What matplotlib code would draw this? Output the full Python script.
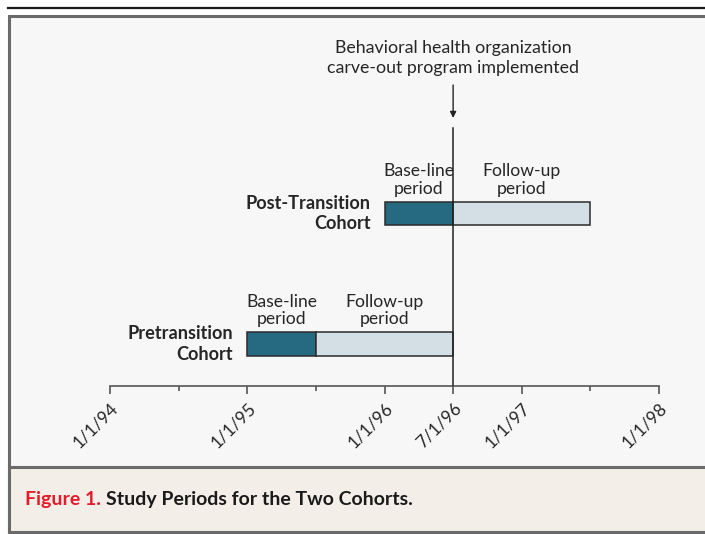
import matplotlib
matplotlib.use("Agg")
import matplotlib.pyplot as plt
from matplotlib.patches import Rectangle
from matplotlib.lines import Line2D

# data (dates as decimal years)
cohorts = ["Pretransition\nCohort", "Post-Transition\nCohort"]
baseline_start = [1995.0, 1996.0]
baseline_end = [1995.5, 1996.5]
followup_end = [1996.5, 1997.5]
implementation = 1996.5
tick_dates = [1994.0, 1995.0, 1996.0, 1996.5, 1997.0, 1998.0]
tick_labels = ["1/1/94", "1/1/95", "1/1/96", "7/1/96", "1/1/97", "1/1/98"]
minor_dates = [1994.5, 1995.5, 1997.5]

W, H = 705, 534
DARK = "#256a80"
LIGHT = "#d3dfe5"
EDGE = "#2b2b2b"
TEXT = "#262626"
FONT = "Lato"

plt.rcParams["font.family"] = [FONT, "DejaVu Sans"]


def fx(x):
    return x / W


def fy(y):
    return 1 - y / H


fig = plt.figure(figsize=(W / 100, H / 100), dpi=100, facecolor="white")

# frame: top rule, panel, caption band (behind the axes)
fig.add_artist(Line2D([fx(8), 1], [fy(8), fy(8)], color="#1a1a1a", lw=1.6, zorder=-2))
fig.add_artist(Rectangle((fx(9), fy(532)), 1, fy(16) - fy(532),
                         facecolor="#f7f7f7", edgecolor="#6a6a6a", lw=2.2, zorder=-2))
fig.add_artist(Rectangle((fx(9), fy(532)), 1, fy(467) - fy(532),
                         facecolor="#f3eee8", edgecolor="#6a6a6a", lw=2.2, zorder=-1))

# timeline axes
ax_top, ax_bot = 120, 386
ax = fig.add_axes([fx(110), fy(ax_bot), fx(659) - fx(110), (ax_bot - ax_top) / H])
ax.set_facecolor("none")
ax.set_xlim(1994, 1998)
row_px = 130.5
ax.set_ylim(-(ax_bot - 344) / row_px, 1 + (213.5 - ax_top) / row_px)
for s in ["top", "left", "right"]:
    ax.spines[s].set_visible(False)
ax.spines["bottom"].set_color("#555555")
ax.spines["bottom"].set_linewidth(1.2)
ax.set_yticks([])
ax.set_xticks(tick_dates)
ax.set_xticklabels(tick_labels, rotation=45, ha="right", va="top",
                   rotation_mode="anchor", fontsize=12.5, color=TEXT)
ax.set_xticks(minor_dates, minor=True)
ax.tick_params(axis="x", which="major", length=6, width=1.2, color="#555555", pad=4)
ax.tick_params(axis="x", which="minor", length=3.8, width=1.2, color="#555555")

bar_h = 0.18
for i, name in enumerate(cohorts):
    b0, b1, f1 = baseline_start[i], baseline_end[i], followup_end[i]
    ax.barh(i, b1 - b0, left=b0, height=bar_h, color=DARK, edgecolor=EDGE, lw=1.1, zorder=3)
    ax.barh(i, f1 - b1, left=b1, height=bar_h, color=LIGHT, edgecolor=EDGE, lw=1.1, zorder=3)
    top = i + bar_h / 2
    ax.annotate("Base-line\nperiod", xy=((b0 + b1) / 2, top), xytext=(0, 3.5),
                textcoords="offset points", ha="center", va="bottom",
                fontsize=12.6, color=TEXT, linespacing=1.12)
    ax.annotate("Follow-up\nperiod", xy=((b1 + f1) / 2, top), xytext=(0, 3.5),
                textcoords="offset points", ha="center", va="bottom",
                fontsize=12.6, color=TEXT, linespacing=1.12)
    ax.annotate(name, xy=(b0, i), xytext=(-10, 0), textcoords="offset points",
                ha="right", va="center", multialignment="right",
                fontsize=13.1, fontweight="bold", color=TEXT, linespacing=1.25)

# implementation line and arrow
ax.axvline(implementation, ymin=0, ymax=(ax_bot - 128) / (ax_bot - ax_top),
           color="#222222", lw=1.1, zorder=4)
ax.annotate("", xy=(implementation, (ax_bot - 118) / (ax_bot - ax_top)),
            xytext=(implementation, (ax_bot - 85) / (ax_bot - ax_top)),
            xycoords=("data", "axes fraction"), textcoords=("data", "axes fraction"),
            arrowprops=dict(arrowstyle="-|>", color="#222222", lw=1.0,
                            mutation_scale=9, shrinkA=0, shrinkB=0),
            annotation_clip=False)
ax.annotate("Behavioral health organization\ncarve-out program implemented",
            xy=(implementation, (ax_bot - 58) / (ax_bot - ax_top)),
            xycoords=("data", "axes fraction"), ha="center", va="center",
            fontsize=12.8, color=TEXT, linespacing=1.3, annotation_clip=False)

# caption
t1 = fig.text(fx(25), fy(499), "Figure 1.", color="#e31b2b", fontsize=14,
              fontweight="bold", va="center", ha="left")
fig.canvas.draw()
bb = t1.get_window_extent()
fig.text(bb.x1 / W + fx(5), fy(499), "Study Periods for the Two Cohorts.",
         color="#1a1a1a", fontsize=14, fontweight="bold", va="center", ha="left")

fig.savefig("out.png", dpi=100, facecolor="white")
